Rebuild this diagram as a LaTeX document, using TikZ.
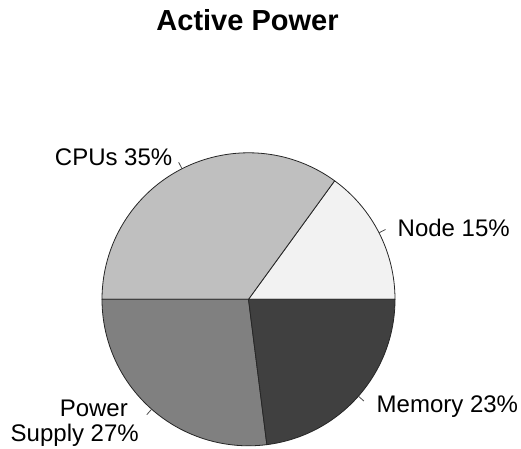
\documentclass[tikz,border=0pt]{standalone}
\usepackage{fontspec}
\setmainfont{Liberation Sans}
\definecolor{nodegray}{gray}{0.95}
\definecolor{cpugray}{gray}{0.75}
\definecolor{psugray}{gray}{0.5}
\definecolor{memgray}{gray}{0.25}
\begin{document}
\begin{tikzpicture}[x=1pt,y=1pt,
  slice/.style={draw=black!85, line width=0.8pt, line join=round},
  tick/.style={draw=black!70, line width=0.8pt},
  lbl/.style={inner sep=0pt, font=\fontsize{24}{25}\selectfont},
  heading/.style={inner sep=0pt, font=\fontsize{29}{31}\selectfont\bfseries}]
\useasboundingbox (0,0) rectangle (521,-448);
\def\R{146.5}
\coordinate (c) at (248.5,-299.3);

% title
\node[heading, anchor=base] (title) at (247.5,-30) {Active Power};

% slices, counter-clockwise from the east
\filldraw[slice, fill=nodegray] (c) -- ++(0:\R) arc[start angle=0, end angle=54, radius=\R] -- cycle;
\filldraw[slice, fill=cpugray] (c) -- ++(54:\R) arc[start angle=54, end angle=180, radius=\R] -- cycle;
\filldraw[slice, fill=psugray] (c) -- ++(180:\R) arc[start angle=180, end angle=277.2, radius=\R] -- cycle;
\filldraw[slice, fill=memgray] (c) -- ++(277.2:\R) arc[start angle=277.2, end angle=360, radius=\R] -- cycle;

% ticks at the middle of each slice
\path (c) ++(27:\R) coordinate (nA) ++(27:7.3) coordinate (nB);
\path (c) ++(117:\R) coordinate (cA) ++(117:7.3) coordinate (cB);
\path (c) ++(228.6:\R) coordinate (pA) ++(228.6:7.3) coordinate (pB);
\path (c) ++(318.6:\R) coordinate (mA) ++(318.6:7.3) coordinate (mB);
\draw[tick] (nA) -- (nB);
\draw[tick] (cA) -- (cB);
\draw[tick] (pA) -- (pB);
\draw[tick] (mA) -- (mB);

% labels
\node[lbl, anchor=base west] (nodeLbl) at (397.5,-236) {Node 15\%};
\node[lbl, anchor=base east] (cpuLbl) at (172.5,-165) {CPUs 35\%};
\node[lbl, anchor=base west] (memLbl) at (376.5,-412) {Memory 23\%};
\node[lbl, anchor=north east, align=right] (psuLbl) at (139,-399.8) {Power\hspace*{11pt}\\Supply 27\%};
\end{tikzpicture}
\end{document}
